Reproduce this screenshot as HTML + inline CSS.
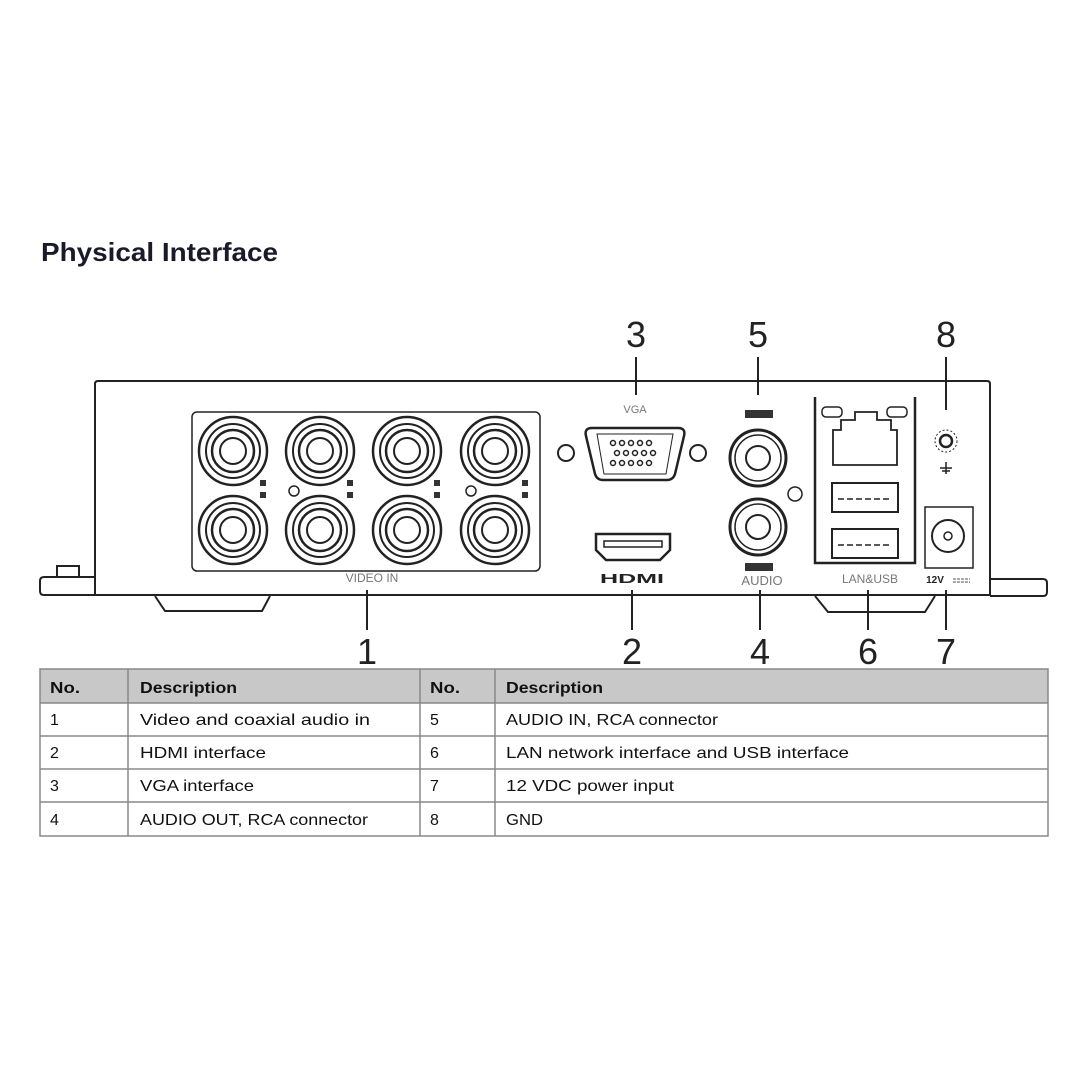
<!DOCTYPE html>
<html><head><meta charset="utf-8"><style>html,body{margin:0;padding:0;background:#fff}svg{display:block}</style></head><body>
<svg width="1080" height="1080" viewBox="0 0 1080 1080" xmlns="http://www.w3.org/2000/svg" font-family="Liberation Sans, sans-serif">
<rect width="1080" height="1080" fill="#fff"/>
<text x="41" y="261" font-size="26" font-weight="bold" fill="#1a1a2a" textLength="237" lengthAdjust="spacingAndGlyphs">Physical Interface</text>
<g fill="none" stroke="#222" stroke-width="2">
<path d="M95 595 L95 384 Q95 381 98 381 L987 381 Q990 381 990 384 L990 595 Z" fill="#fff"/>
<path d="M95 577 L44 577 Q40 577 40 581 L40 591 Q40 595 44 595 L95 595"/>
<rect x="57" y="566" width="22" height="11"/>
<path d="M990 579 L1043 579 Q1047 579 1047 583 L1047 592 Q1047 596 1043 596 L990 596"/>
<path d="M155 596 L165 611 L262 611 L270 596"/>
<path d="M815 596 L828 612 L925 612 L935 596"/>
<rect x="192" y="412" width="348" height="159" rx="5" stroke-width="1.5"/>
</g>
<g fill="none" stroke="#222">
<g id="bnc">
<circle cx="233" cy="451" r="34" stroke-width="2.5"/>
<circle cx="233" cy="451" r="27" stroke-width="2"/>
<circle cx="233" cy="451" r="21" stroke-width="2.5"/>
<circle cx="233" cy="451" r="13" stroke-width="2"/>
</g>
<use href="#bnc" x="87"/><use href="#bnc" x="174"/><use href="#bnc" x="262"/>
<use href="#bnc" y="79"/><use href="#bnc" x="87" y="79"/><use href="#bnc" x="174" y="79"/><use href="#bnc" x="262" y="79"/>
<circle cx="294" cy="491" r="5" stroke-width="1.5"/><circle cx="471" cy="491" r="5" stroke-width="1.5"/>
</g>
<g fill="#333">
<rect x="260" y="480" width="6" height="6"/><rect x="260" y="492" width="6" height="6"/>
<rect x="347" y="480" width="6" height="6"/><rect x="347" y="492" width="6" height="6"/>
<rect x="434" y="480" width="6" height="6"/><rect x="434" y="492" width="6" height="6"/>
<rect x="522" y="480" width="6" height="6"/><rect x="522" y="492" width="6" height="6"/>
</g>
<text x="372" y="582" font-size="12" fill="#777" text-anchor="middle">VIDEO IN</text>
<g fill="none" stroke="#222" stroke-width="2">
<circle cx="566" cy="453" r="8"/><circle cx="698" cy="453" r="8"/>
<path d="M592 428 L678 428 Q686 428 684 436 L675 474 Q673 480 667 480 L603 480 Q597 480 595 474 L586 436 Q584 428 592 428 Z" stroke-width="2.5"/>
<path d="M597 434 L673 434 L666 474 L604 474 Z" stroke-width="1"/>
</g>
<g fill="#fff" stroke="#222" stroke-width="1.5">
<circle cx="613" cy="443" r="2.5"/><circle cx="622" cy="443" r="2.5"/><circle cx="631" cy="443" r="2.5"/><circle cx="640" cy="443" r="2.5"/><circle cx="649" cy="443" r="2.5"/>
<circle cx="617" cy="453" r="2.5"/><circle cx="626" cy="453" r="2.5"/><circle cx="635" cy="453" r="2.5"/><circle cx="644" cy="453" r="2.5"/><circle cx="653" cy="453" r="2.5"/>
<circle cx="613" cy="463" r="2.5"/><circle cx="622" cy="463" r="2.5"/><circle cx="631" cy="463" r="2.5"/><circle cx="640" cy="463" r="2.5"/><circle cx="649" cy="463" r="2.5"/>
</g>
<text x="635" y="413" font-size="11" fill="#777" text-anchor="middle">VGA</text>
<g fill="none" stroke="#222" stroke-width="2.5">
<path d="M596 534 L670 534 L670 550 L660 560 L606 560 L596 550 Z"/>
<rect x="604" y="541" width="58" height="6" stroke-width="1.5"/>
</g>
<text x="632" y="583" font-size="13" font-weight="bold" fill="#222" text-anchor="middle" textLength="64" lengthAdjust="spacingAndGlyphs">HDMI</text>
<g fill="none" stroke="#222">
<circle cx="758" cy="458" r="28" stroke-width="3"/><circle cx="758" cy="458" r="23" stroke-width="1.5"/><circle cx="758" cy="458" r="12" stroke-width="2"/>
<circle cx="758" cy="527" r="28" stroke-width="3"/><circle cx="758" cy="527" r="23" stroke-width="1.5"/><circle cx="758" cy="527" r="12" stroke-width="2"/>
<circle cx="795" cy="494" r="7" stroke-width="1.5"/>
</g>
<rect x="745" y="410" width="28" height="8" fill="#333"/>
<rect x="745" y="563" width="28" height="8" fill="#333"/>
<text x="762" y="585" font-size="13" fill="#777" text-anchor="middle">AUDIO</text>
<g fill="none" stroke="#222" stroke-width="2.5">
<path d="M815 397 L815 563 L915 563 L915 397"/>
<path d="M833 430 L841 430 L841 420 L855 420 L855 412 L877 412 L877 420 L891 420 L891 430 L897 430 L897 465 L833 465 Z" stroke-width="1.8"/>
<rect x="822" y="407" width="20" height="10" rx="4" stroke-width="1.5"/>
<rect x="887" y="407" width="20" height="10" rx="4" stroke-width="1.5"/>
<rect x="832" y="483" width="66" height="29" stroke-width="2"/>
<rect x="832" y="529" width="66" height="29" stroke-width="2"/>
<path d="M838 499 L892 499 M838 545 L892 545" stroke-width="1.5" stroke-dasharray="6 3"/>
</g>
<text x="870" y="583" font-size="12" fill="#777" text-anchor="middle">LAN&amp;USB</text>
<g fill="none" stroke="#222">
<circle cx="946" cy="441" r="11" stroke-width="1" stroke-dasharray="2 2"/>
<circle cx="946" cy="441" r="6" stroke-width="2.5"/>
<path d="M940 468 L952 468 M946 462 L946 474 M942 471 L950 471" stroke-width="1.5"/>
<rect x="925" y="507" width="48" height="61" stroke-width="1.5"/>
<circle cx="948" cy="536" r="16" stroke-width="2"/>
<circle cx="948" cy="536" r="4" stroke-width="1.5"/>
</g>
<text x="935" y="583" font-size="10" font-weight="bold" fill="#222" text-anchor="middle">12V</text>
<path d="M953 579 L970 579 M953 582 L970 582" stroke="#555" stroke-width="1" stroke-dasharray="3 1"/>
<g stroke="#222" stroke-width="2">
<line x1="367" y1="590" x2="367" y2="630"/>
<line x1="632" y1="590" x2="632" y2="630"/>
<line x1="760" y1="590" x2="760" y2="630"/>
<line x1="868" y1="590" x2="868" y2="630"/>
<line x1="946" y1="590" x2="946" y2="630"/>
<line x1="636" y1="357" x2="636" y2="395"/>
<line x1="758" y1="357" x2="758" y2="395"/>
<line x1="946" y1="357" x2="946" y2="410"/>
</g>
<g font-size="36" fill="#222" text-anchor="middle">
<text x="367" y="664">1</text><text x="632" y="664">2</text><text x="760" y="664">4</text><text x="868" y="664">6</text><text x="946" y="664">7</text>
<text x="636" y="347">3</text><text x="758" y="347">5</text><text x="946" y="347">8</text>
</g>
<rect x="40" y="669" width="1008" height="34" fill="#c8c8c8"/>
<g fill="none" stroke="#888" stroke-width="1.5">
<rect x="40" y="669" width="1008" height="167"/>
<line x1="40" y1="703" x2="1048" y2="703"/><line x1="40" y1="736" x2="1048" y2="736"/><line x1="40" y1="769" x2="1048" y2="769"/><line x1="40" y1="802" x2="1048" y2="802"/>
<line x1="128" y1="669" x2="128" y2="836"/><line x1="420" y1="669" x2="420" y2="836"/><line x1="495" y1="669" x2="495" y2="836"/>
</g>
<g font-size="16" fill="#111">
<text x="50" y="693" font-weight="bold" textLength="30" lengthAdjust="spacingAndGlyphs">No.</text><text x="140" y="693" font-weight="bold" textLength="97" lengthAdjust="spacingAndGlyphs">Description</text>
<text x="430" y="693" font-weight="bold" textLength="30" lengthAdjust="spacingAndGlyphs">No.</text><text x="506" y="693" font-weight="bold" textLength="97" lengthAdjust="spacingAndGlyphs">Description</text>
<text x="50" y="725">1</text><text x="140" y="725" textLength="230" lengthAdjust="spacingAndGlyphs">Video and coaxial audio in</text><text x="430" y="725">5</text><text x="506" y="725" textLength="212" lengthAdjust="spacingAndGlyphs">AUDIO IN, RCA connector</text>
<text x="50" y="758">2</text><text x="140" y="758" textLength="126" lengthAdjust="spacingAndGlyphs">HDMI interface</text><text x="430" y="758">6</text><text x="506" y="758" textLength="343" lengthAdjust="spacingAndGlyphs">LAN network interface and USB interface</text>
<text x="50" y="791">3</text><text x="140" y="791" textLength="114" lengthAdjust="spacingAndGlyphs">VGA interface</text><text x="430" y="791">7</text><text x="506" y="791" textLength="168" lengthAdjust="spacingAndGlyphs">12 VDC power input</text>
<text x="50" y="825">4</text><text x="140" y="825" textLength="228" lengthAdjust="spacingAndGlyphs">AUDIO OUT, RCA connector</text><text x="430" y="825">8</text><text x="506" y="825" textLength="37" lengthAdjust="spacingAndGlyphs">GND</text>
</g>
</svg>
</body></html>
